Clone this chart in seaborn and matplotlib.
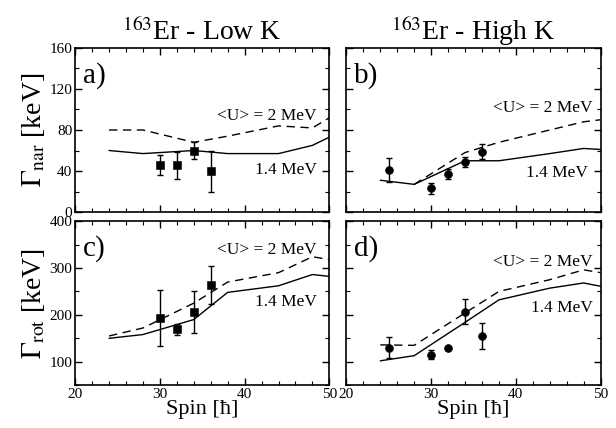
import matplotlib
matplotlib.use('Agg')
import seaborn as sns
from matplotlib import pyplot as plt
from matplotlib.ticker import MultipleLocator

# model curves (spin grid shared by all panels)
spin_model = [24, 28, 34, 38, 44, 48, 50]
low_nar_2mev = [80, 80, 68, 74, 84, 82, 92]
low_nar_14mev = [60, 57, 60, 57, 57, 65, 73]
high_nar_2mev = [None, 27, 58, 68, 80, 88, 90]
high_nar_14mev = [31, 27, 50, 50, 57, 62, 61]
low_rot_2mev = [155, 172, 225, 270, 290, 324, 318]
low_rot_14mev = [150, 158, 190, 248, 262, 286, 282]
high_rot_2mev = [136, 135, 204, 250, 275, 296, 290]
high_rot_14mev = [102, 113, 184, 232, 257, 268, 261]

# measured points
spin_low = [30, 32, 34, 36]
low_nar = [46, 46, 60, 40]
low_nar_err_lo = [10, 14, 8, 20]
low_nar_err_hi = [10, 13, 8, 20]
low_rot = [193, 169, 206, 264]
low_rot_err = [60, 12, 44, 40]

spin_high = [25, 30, 32, 34, 36]
high_nar = [41, 23, 37, 49, 59]
high_nar_err = [12, 5, 4.5, 5, 7]
high_rot = [130, 115, 129, 207, 155]
high_rot_err = [22, 10, 3, 27, 28]

sns.set_style('ticks')
plt.rcParams['font.family'] = ['Liberation Serif', 'DejaVu Serif']
plt.rcParams['mathtext.fontset'] = 'stix'
plt.rcParams['axes.linewidth'] = 1.2
for key in ['axes.edgecolor', 'axes.labelcolor', 'xtick.color', 'ytick.color',
            'xtick.labelcolor', 'ytick.labelcolor', 'text.color']:
    plt.rcParams[key] = 'black'

fig, axes = plt.subplots(2, 2, figsize=(6.16, 4.28), dpi=100, sharex=True, sharey='row')
fig.subplots_adjust(left=0.122, right=0.975, top=0.888, bottom=0.10, wspace=0.067, hspace=0.055)

panels = [
    (axes[0, 0], spin_low, low_nar, [low_nar_err_lo, low_nar_err_hi], 's', low_nar_2mev, low_nar_14mev,
     'a)', (48.5, 94), (48.5, 41)),
    (axes[0, 1], spin_high, high_nar, high_nar_err, 'o', high_nar_2mev, high_nar_14mev,
     'b)', (49.1, 101), (48.5, 38)),
    (axes[1, 0], spin_low, low_rot, low_rot_err, 's', low_rot_2mev, low_rot_14mev,
     'c)', (48.5, 338), (48.5, 227)),
    (axes[1, 1], spin_high, high_rot, high_rot_err, 'o', high_rot_2mev, high_rot_14mev,
     'd)', (49.1, 313), (49.1, 215)),
]

for ax, xs, ys, err, mk, m2, m14, tag, pos2, pos14 in panels:
    x2 = [s for s, v in zip(spin_model, m2) if v is not None]
    y2 = [v for v in m2 if v is not None]
    sns.lineplot(x=x2, y=y2, ax=ax, color='black', lw=1.0,
                 linestyle=(0, (6, 4)), errorbar=None)
    sns.lineplot(x=spin_model, y=m14, ax=ax, color='black', lw=1.0, errorbar=None)
    ax.errorbar(xs, ys, yerr=err, fmt='none', ecolor='black', elinewidth=1, capsize=2.5, zorder=3)
    sns.scatterplot(x=xs, y=ys, ax=ax, marker=mk, s=32 if mk == 'o' else 28,
                    color='black', edgecolor='black', zorder=4)
    ax.text(0.03, 0.83, tag, transform=ax.transAxes, fontsize=21, va='center', ha='left')
    ax.text(*pos2, '<U> = 2 MeV', fontsize=12.5, ha='right', va='center')
    ax.text(*pos14, '1.4 MeV', fontsize=12.5, ha='right', va='center')
    ax.tick_params(which='both', direction='in', top=True, right=True, labelsize=11)
    ax.tick_params(which='major', length=5, width=1, pad=2)
    ax.tick_params(which='minor', length=3, width=0.8)
    ax.xaxis.set_major_locator(MultipleLocator(10))
    ax.xaxis.set_minor_locator(MultipleLocator(2))

axes[0, 0].set_xlim(20, 50)
axes[0, 0].set_ylim(0, 160)
axes[0, 0].yaxis.set_major_locator(MultipleLocator(40))
axes[0, 0].yaxis.set_minor_locator(MultipleLocator(20))
axes[1, 0].set_ylim(50, 400)
axes[1, 0].yaxis.set_major_locator(MultipleLocator(100))
axes[1, 0].yaxis.set_minor_locator(MultipleLocator(50))

axes[0, 0].set_title(r'$^{163}$Er - Low K', fontsize=20, pad=6)
axes[0, 1].set_title(r'$^{163}$Er - High K', fontsize=20, pad=6)
axes[0, 0].set_ylabel(r'$\Gamma_{\rm nar}$ [keV]', fontsize=20, labelpad=2)
axes[1, 0].set_ylabel(r'$\Gamma_{\rm rot}$ [keV]', fontsize=20, labelpad=2)
axes[1, 0].set_xlabel('Spin [ħ]', fontsize=16, labelpad=-1)
axes[1, 1].set_xlabel('Spin [ħ]', fontsize=16, labelpad=-1)

plt.savefig('out.png', dpi=100)
